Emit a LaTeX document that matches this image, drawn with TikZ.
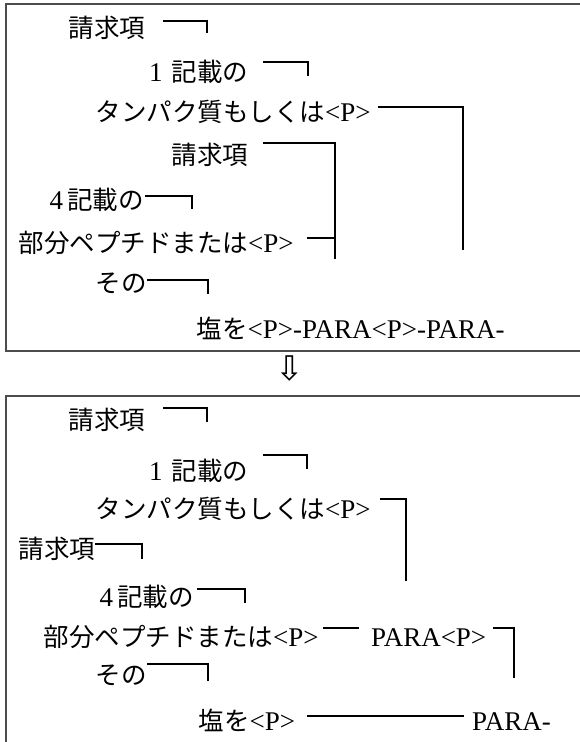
\documentclass[tikz,border=0pt]{standalone}
\usepackage{fontspec}
\setmainfont{Liberation Serif}
\newfontfamily\cjk{Noto Sans CJK JP}
\newfontfamily\symfont{DejaVu Sans}
\newcommand\jtext[1]{{\cjk\fontsize{25.5}{30}\selectfont #1}}
\begin{document}
\begin{tikzpicture}[x=1pt,y=-1pt,
  txt/.style={font=\fontsize{27}{30}\selectfont, inner sep=0pt, anchor=base west},
  brk/.style={line width=1.8pt, line join=miter},
  frame/.style={line width=1.4pt, draw=black!70}]
\useasboundingbox (0,0) rectangle (580,742);

% frames
\coordinate (f1a) at (584,4);   \coordinate (f1b) at (6,4);
\coordinate (f1c) at (6,351);   \coordinate (f1d) at (584,351);
\draw[frame] (f1a) -- (f1b) -- (f1c) -- (f1d);
\coordinate (f2a) at (584,396); \coordinate (f2b) at (6,396);
\coordinate (f2c) at (6,746);
\draw[frame] (f2a) -- (f2b) -- (f2c);

% arrow
\node[font=\symfont\fontsize{34}{34}\selectfont, inner sep=0pt] (arr) at (290,369) {⇩};

% ---- top box text
\node[txt] (a1) at (68.5,37.5)  {\jtext{請求項}};
\node[txt] (a2) at (149,81.5)   {1\hspace{9pt}\jtext{記載の}};
\node[txt] (a3) at (95.5,121.5) {\jtext{タンパク質もしくは}<P>};
\node[txt] (a4) at (171.5,164.5){\jtext{請求項}};
\node[txt] (a5) at (49.5,209.5) {4\hspace{4pt}\jtext{記載の}};
\node[txt] (a6) at (18.5,252.5) {\jtext{部分ペプチドまたは}<P>};
\node[txt] (a7) at (95.5,292.5) {\jtext{その}};
\node[txt] (a8) at (196.5,338)  {\jtext{塩を}<P>-PARA<P>-PARA-};

% ---- top box brackets
\coordinate (ta1) at (163,21);  \coordinate (ta2) at (207,21);  \coordinate (ta3) at (207,33);
\draw[brk] (ta1) -- (ta2) -- (ta3);
\coordinate (tb1) at (263,62);  \coordinate (tb2) at (308,62);  \coordinate (tb3) at (308,76);
\draw[brk] (tb1) -- (tb2) -- (tb3);
\coordinate (tc1) at (378,107); \coordinate (tc2) at (463,107); \coordinate (tc3) at (463,250);
\draw[brk] (tc1) -- (tc2) -- (tc3);
\coordinate (td1) at (263,143); \coordinate (td2) at (335,143); \coordinate (td3) at (335,259);
\draw[brk] (td1) -- (td2) -- (td3);
\coordinate (te1) at (145,196); \coordinate (te2) at (192,196); \coordinate (te3) at (192,209);
\draw[brk] (te1) -- (te2) -- (te3);
\coordinate (tf1) at (307,238); \coordinate (tf2) at (335,238);
\draw[brk] (tf1) -- (tf2);
\coordinate (tg1) at (147,280); \coordinate (tg2) at (208,280); \coordinate (tg3) at (208,294);
\draw[brk] (tg1) -- (tg2) -- (tg3);

% ---- bottom box text
\node[txt] (b1) at (68.5,429.5) {\jtext{請求項}};
\node[txt] (b2) at (149,480.5)  {1\hspace{9pt}\jtext{記載の}};
\node[txt] (b3) at (95.5,518)   {\jtext{タンパク質もしくは}<P>};
\node[txt] (b4) at (18.5,558.5) {\jtext{請求項}};
\node[txt] (b5) at (99.5,606.5) {4\hspace{4pt}\jtext{記載の}};
\node[txt] (b6) at (43.5,646.5) {\jtext{部分ペプチドまたは}<P>};
\node[txt] (b6p) at (371,646.5) {PARA<P>};
\node[txt] (b7) at (95.5,684.5) {\jtext{その}};
\node[txt] (b8) at (198.5,730)  {\jtext{塩を}<P>};
\node[txt] (b8p) at (472,730)   {PARA-};

% ---- bottom box brackets
\coordinate (ba1) at (163,408); \coordinate (ba2) at (207,408); \coordinate (ba3) at (207,422);
\draw[brk] (ba1) -- (ba2) -- (ba3);
\coordinate (bb1) at (263,455); \coordinate (bb2) at (307,455); \coordinate (bb3) at (307,469);
\draw[brk] (bb1) -- (bb2) -- (bb3);
\coordinate (bc1) at (380,499); \coordinate (bc2) at (406,499); \coordinate (bc3) at (406,581);
\draw[brk] (bc1) -- (bc2) -- (bc3);
\coordinate (bd1) at (95,544);  \coordinate (bd2) at (142,544); \coordinate (bd3) at (142,559);
\draw[brk] (bd1) -- (bd2) -- (bd3);
\coordinate (be1) at (197,589); \coordinate (be2) at (245,589); \coordinate (be3) at (245,603);
\draw[brk] (be1) -- (be2) -- (be3);
\coordinate (bf1) at (323,628); \coordinate (bf2) at (359,628);
\draw[brk] (bf1) -- (bf2);
\coordinate (bg1) at (493,628); \coordinate (bg2) at (514,628); \coordinate (bg3) at (514,678);
\draw[brk] (bg1) -- (bg2) -- (bg3);
\coordinate (bh1) at (147,664); \coordinate (bh2) at (208,664); \coordinate (bh3) at (208,681);
\draw[brk] (bh1) -- (bh2) -- (bh3);
\coordinate (bi1) at (307,716); \coordinate (bi2) at (464,716);
\draw[brk] (bi1) -- (bi2);
\end{tikzpicture}
\end{document}
